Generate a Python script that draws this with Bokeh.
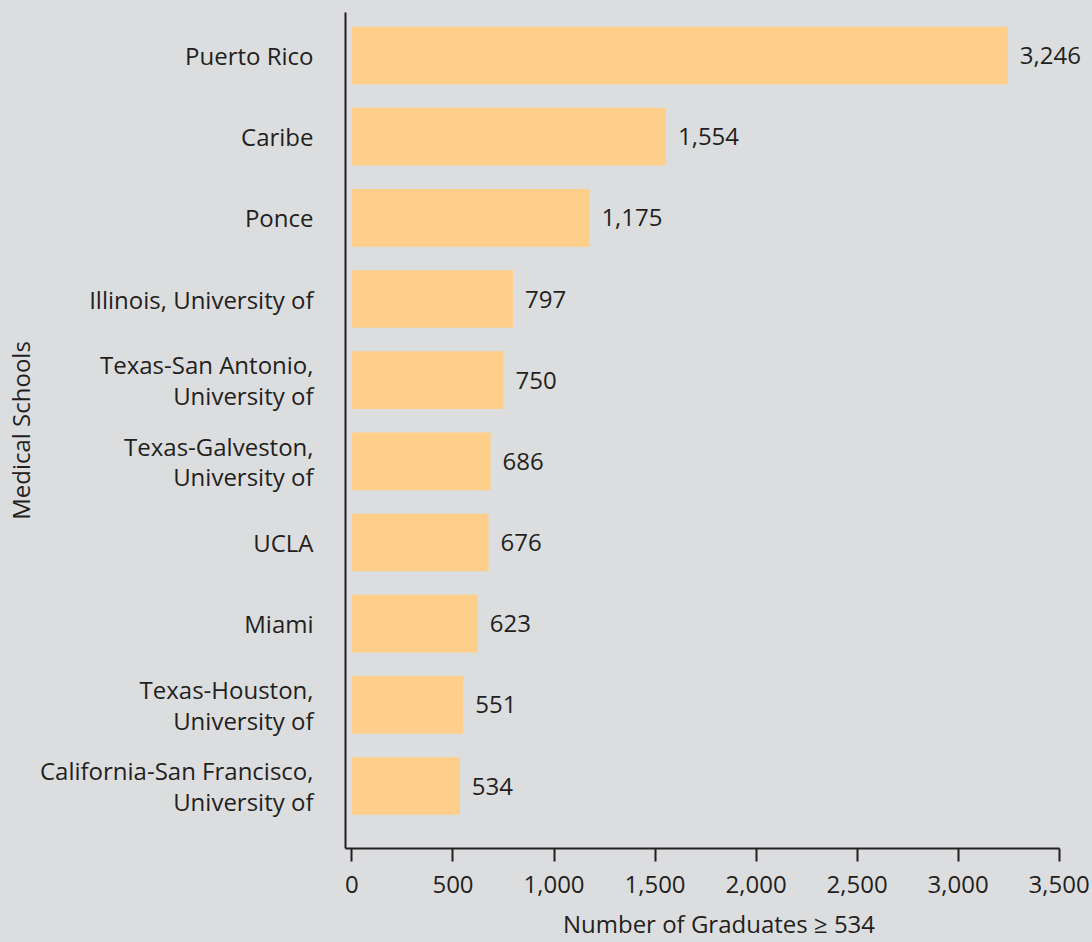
from bokeh.plotting import figure
from bokeh.models import Range1d, FixedTicker, NumeralTickFormatter, ColumnDataSource, LabelSet
from bokeh.embed import file_html
from bokeh.resources import INLINE
from bokeh.core.properties import value

schools = [
    "Puerto Rico",
    "Caribe",
    "Ponce",
    "Illinois, University of",
    "Texas-San Antonio,\nUniversity of",
    "Texas-Galveston,\nUniversity of",
    "UCLA",
    "Miami",
    "Texas-Houston,\nUniversity of",
    "California-San Francisco,\nUniversity of",
]
graduates = [3246, 1554, 1175, 797, 750, 686, 676, 623, 551, 534]
x_ticks = [0, 500, 1000, 1500, 2000, 2500, 3000, 3500]

BG = "#dcdddf"
BAR = "#fecf8a"
INK = "#231f20"
FONT = "Open Sans"
FS = "24px"

n = len(schools)
ypos = [n - 1 - i for i in range(n)]
src = ColumnDataSource(dict(
    y=ypos, v=graduates, lbl=[f"{g:,}" for g in graduates]
))

X0, X1, XEND = -32, 3500, 3665
W, H = 1092, 942
FRAME_L, FRAME_T, FRAME_B = 342, 12, 852
px_per_unit = (1059 - FRAME_L) / (X1 - X0)
frame_r = FRAME_L + px_per_unit * (XEND - X0)

p = figure(width=W, height=H, output_backend="svg", toolbar_location=None,
           x_range=Range1d(X0, XEND), y_range=Range1d(-0.77, n - 1 + 0.53),
           min_border_left=FRAME_L, min_border_right=max(0, int(round(W - frame_r))),
           min_border_top=FRAME_T, min_border_bottom=H - FRAME_B)
p.background_fill_color = BG
p.border_fill_color = BG
p.outline_line_color = None
p.grid.visible = False

p.hbar(y="y", left=0, right="v", height=0.71, source=src,
       fill_color=BAR, line_color=None)
labels = LabelSet(x="v", y="y", text="lbl", source=src, x_offset=12,
                  text_align="left", text_baseline="middle", text_color=INK,
                  text_font=value(FONT), text_font_size=value(FS))
p.add_layout(labels)

xa = p.xaxis[0]
xa.bounds = (X0, X1)
xa.ticker = FixedTicker(ticks=x_ticks)
xa.formatter = NumeralTickFormatter(format="0,0")
xa.axis_label = "Number of Graduates \u2265 534"
xa.major_tick_out = 13
xa.major_tick_in = 0
xa.minor_tick_line_color = None
xa.axis_line_width = 2
xa.major_tick_line_width = 2
xa.axis_line_color = INK
xa.major_tick_line_color = INK
xa.major_label_standoff = 14
xa.axis_label_standoff = 11

ya = p.yaxis[0]
ya.ticker = FixedTicker(ticks=ypos)
ya.major_label_overrides = {y: s for y, s in zip(ypos, schools)}
ya.axis_label = "Medical Schools"
ya.major_tick_out = 0
ya.major_tick_in = 0
ya.minor_tick_line_color = None
ya.axis_line_width = 2
ya.axis_line_color = INK
ya.major_label_standoff = 32
ya.axis_label_standoff = 0
ya.major_label_text_line_height = 0.92

for ax in (xa, ya):
    ax.major_label_text_font = FONT
    ax.major_label_text_font_size = FS
    ax.major_label_text_color = INK
    ax.axis_label_text_font = FONT
    ax.axis_label_text_font_size = FS
    ax.axis_label_text_font_style = "normal"
    ax.axis_label_text_color = INK

html = file_html(p, INLINE)
html = html.replace("</head>", "<style>body{background:%s;}</style></head>" % BG)
open("out.html", "w").write(html)
